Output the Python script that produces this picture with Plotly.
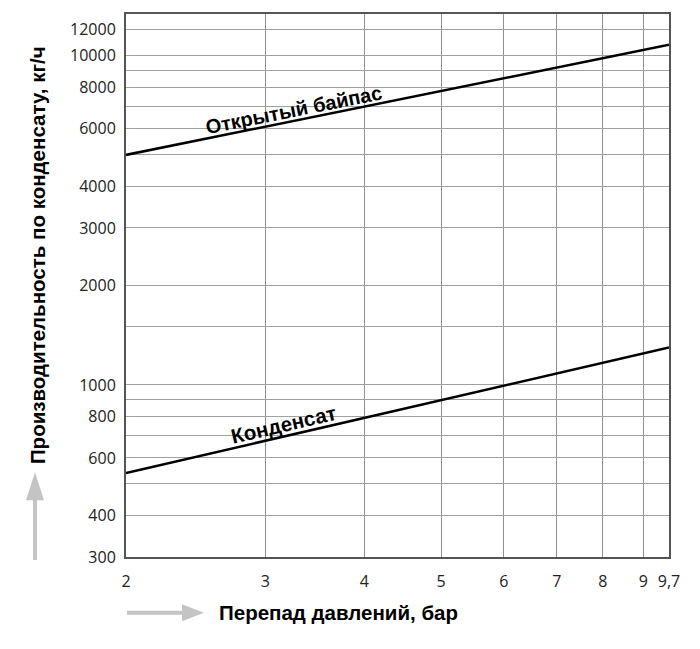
import math
import plotly.graph_objects as go

# capacity vs pressure drop
pressure_drop = [2, 9.7]
bypass_capacity = [5000, 10800]
condensate_capacity = [540, 1300]

x_tick_vals = [2, 3, 4, 5, 6, 7, 8, 9, 9.7]
x_tick_text = ["2", "3", "4", "5", "6", "7", "8", "9", "9,7"]

y_grid_vals = [300, 400, 500, 600, 700, 800, 900, 1000, 1500, 2000,
               3000, 4000, 5000, 6000, 7000, 8000, 9000, 10000, 12000]
y_labelled = [300, 400, 600, 800, 1000, 2000, 3000, 4000, 6000, 8000, 10000, 12000]

W, H = 700, 649
OX, OY = 8, 8  # page body margin
L, R, T, B = 118, 39, 4, 100
PW, PH = W - L - R, H - T - B

BOLD = "Liberation Sans, Arial, sans-serif"
TICK = "Open Sans, sans-serif"


def paper(px, py):
    # page pixels -> paper coordinates
    return (px - OX - L) / PW, (H - B - (py - OY)) / PH


def rot_rect(cx, cy, w, h, ang):
    a = math.radians(ang)
    ux, uy = math.cos(a), -math.sin(a)
    vx, vy = -math.sin(a), -math.cos(a)
    pts = []
    for su, sv in [(-1, -1), (1, -1), (1, 1), (-1, 1)]:
        x = cx + su * ux * w / 2 + sv * vx * h / 2
        y = cy + su * uy * w / 2 + sv * vy * h / 2
        pts.append(paper(x, y))
    return "M " + " L ".join(f"{x:.4f},{y:.4f}" for x, y in pts) + " Z"


def poly(points):
    pts = [paper(x, y) for x, y in points]
    return "M " + " L ".join(f"{x:.4f},{y:.4f}" for x, y in pts) + " Z"


fig = go.Figure()

fig.add_trace(go.Scatter(x=pressure_drop, y=bypass_capacity, mode="lines",
                         line=dict(color="black", width=2.5), showlegend=False))
fig.add_trace(go.Scatter(x=pressure_drop, y=condensate_capacity, mode="lines",
                         line=dict(color="black", width=2.5), showlegend=False))

shapes = []
# white masks behind the curve labels (over grid, under curves)
shapes.append(dict(type="path", xref="paper", yref="paper", layer="between",
                   path=rot_rect(293, 106, 200, 28, 11.3),
                   fillcolor="white", line=dict(width=0)))
shapes.append(dict(type="path", xref="paper", yref="paper", layer="between",
                   path=rot_rect(283, 422, 130, 28, 13.1),
                   fillcolor="white", line=dict(width=0)))

# grey arrows next to the axis titles
arrow_grey = "#c4c4c4"
shapes.append(dict(type="path", xref="paper", yref="paper",
                   path=poly([(33, 560), (37, 560), (37, 500), (44, 500),
                              (35, 472), (26, 500), (33, 500)]),
                   fillcolor=arrow_grey, line=dict(width=0)))
shapes.append(dict(type="path", xref="paper", yref="paper",
                   path=poly([(127, 611), (182, 611), (182, 604.5), (204, 613),
                              (182, 621.5), (182, 615), (127, 615)]),
                   fillcolor=arrow_grey, line=dict(width=0)))

annotations = []
bx, by = paper(293, 108)
annotations.append(dict(xref="paper", yref="paper", x=bx, y=by, text="<b>Открытый байпас</b>",
                        showarrow=False, textangle=-11.3, xanchor="center", yanchor="middle",
                        font=dict(family=BOLD, size=20, color="black")))
cx, cy = paper(283, 424)
annotations.append(dict(xref="paper", yref="paper", x=cx, y=cy, text="<b>Конденсат</b>",
                        showarrow=False, textangle=-13.1, xanchor="center", yanchor="middle",
                        font=dict(family=BOLD, size=20.5, color="black")))
tx, ty = paper(37, 254)
annotations.append(dict(xref="paper", yref="paper", x=tx, y=ty,
                        text="<b>Производительность по конденсату, кг/ч</b>",
                        showarrow=False, textangle=-90, xanchor="center", yanchor="middle",
                        font=dict(family=BOLD, size=20.5, color="black")))
xx, xy = paper(217, 613)
annotations.append(dict(xref="paper", yref="paper", x=xx, y=xy,
                        text="<b>Перепад давлений, бар</b>",
                        showarrow=False, xanchor="left", yanchor="middle",
                        font=dict(family=BOLD, size=20.5, color="black")))

fig.update_layout(
    width=W, height=H,
    margin=dict(l=L, r=R, t=T, b=B),
    paper_bgcolor="white", plot_bgcolor="white",
    shapes=shapes, annotations=annotations,
    xaxis=dict(
        type="log",
        range=[math.log10(2), math.log10(9.7)],
        tickvals=x_tick_vals, ticktext=x_tick_text,
        showgrid=True, gridcolor="#8f8f8f", gridwidth=1,
        showline=True, linecolor="#555555", linewidth=2, mirror=True,
        ticks="", ticklabelstandoff=9,
        tickfont=dict(family=TICK, size=16, color="#222222"),
        zeroline=False,
    ),
    yaxis=dict(
        type="log",
        range=[math.log10(300), math.log10(13400)],
        tickvals=y_grid_vals,
        ticktext=[str(v) if v in y_labelled else "" for v in y_grid_vals],
        showgrid=True, gridcolor="#a0a0a0", gridwidth=1,
        showline=True, linecolor="#555555", linewidth=2, mirror=True,
        ticks="", ticklabelstandoff=5,
        tickfont=dict(family=TICK, size=16, color="#222222"),
        zeroline=False,
    ),
)

fig.write_html("out.html")
